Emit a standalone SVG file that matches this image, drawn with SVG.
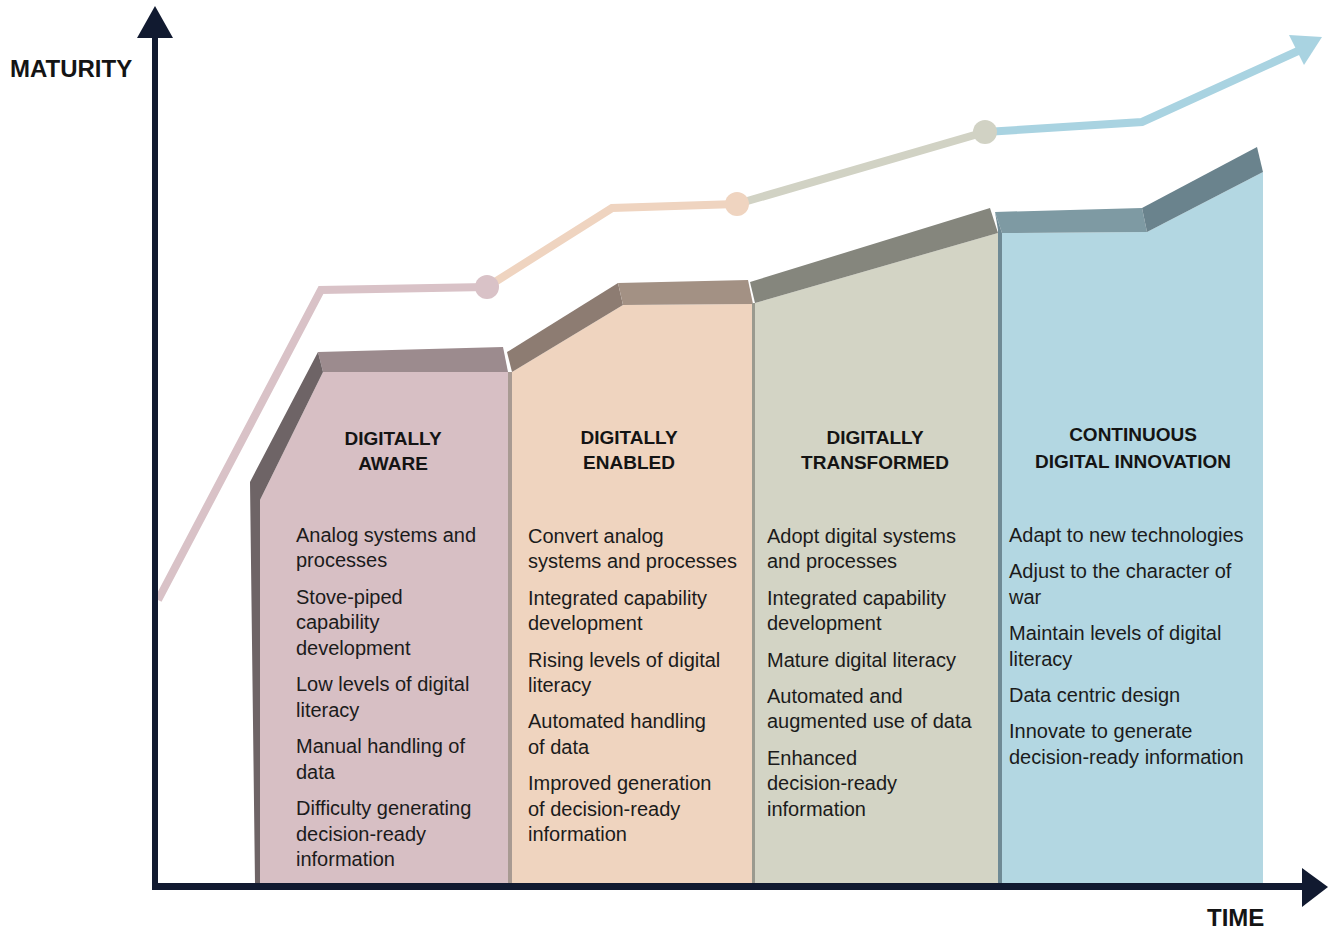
<svg xmlns="http://www.w3.org/2000/svg" width="1328" height="933" viewBox="0 0 1328 933">
<style>
.t{font-family:"Liberation Sans",Arial,sans-serif;font-size:20px;fill:#1b1b1b}
.h{font-family:"Liberation Sans",Arial,sans-serif;font-size:19px;font-weight:bold;fill:#141414;text-anchor:middle}
.ax{font-family:"Liberation Sans",Arial,sans-serif;font-size:24px;font-weight:bold;fill:#141414}
.trend{fill:none;stroke-width:8;stroke-linejoin:miter;stroke-linecap:butt}
</style>
<rect width="1328" height="933" fill="#ffffff"/>

<g id="connectors">
<polyline class="trend" stroke="#d9c2c7" points="158,600 321,290 487,287"/>
<polyline class="trend" stroke="#efd4c0" points="487,287 612,208 737,204"/>
<polyline class="trend" stroke="#d1d2c4" points="737,204 985,132"/>
<polyline class="trend" stroke="#a9d3e1" points="985,132 1142,122 1298,51"/>
<polygon fill="#a9d3e1" points="1322,37 1289,35 1304,65"/>
<circle cx="487" cy="287" r="12" fill="#d9c2c7"/>
<circle cx="737" cy="204" r="12" fill="#efd4c0"/>
<circle cx="985" cy="132" r="12" fill="#d1d2c4"/>
</g>

<g id="node-aware">
<polygon fill="#d7bfc4" points="323,372 508,372 508,883 260,883 260,500"/>
<polygon fill="#9c8b8e" points="318,352 503,347 508,372 323,372"/>
<polygon fill="#6e6466" points="318,352 323,372 260,500 260,883 255,883 250,482"/>
<text class="h" x="393" y="445">DIGITALLY</text>
<text class="h" x="393" y="470">AWARE</text>
<text class="t" x="296" y="542">Analog systems and</text>
<text class="t" x="296" y="567">processes</text>
<text class="t" x="296" y="604">Stove-piped</text>
<text class="t" x="296" y="629">capability</text>
<text class="t" x="296" y="655">development</text>
<text class="t" x="296" y="691">Low levels of digital</text>
<text class="t" x="296" y="717">literacy</text>
<text class="t" x="296" y="753">Manual handling of</text>
<text class="t" x="296" y="779">data</text>
<text class="t" x="296" y="815">Difficulty generating</text>
<text class="t" x="296" y="841">decision-ready</text>
<text class="t" x="296" y="866">information</text>
</g>

<g id="node-enabled">
<polygon fill="#efd4bf" points="512,372 623,305 753,304 753,883 512,883"/>
<polygon fill="#8d7c72" points="507,352 618,283 623,305 512,372"/>
<polygon fill="#a39184" points="618,283 748,280 753,304 623,305"/>
<rect x="508" y="372" width="4" height="511" fill="#a89a92"/>
<text class="h" x="629" y="444">DIGITALLY</text>
<text class="h" x="629" y="469">ENABLED</text>
<text class="t" x="528" y="543">Convert analog</text>
<text class="t" x="528" y="568">systems and processes</text>
<text class="t" x="528" y="605">Integrated capability</text>
<text class="t" x="528" y="630">development</text>
<text class="t" x="528" y="667">Rising levels of digital</text>
<text class="t" x="528" y="692">literacy</text>
<text class="t" x="528" y="728">Automated handling</text>
<text class="t" x="528" y="754">of data</text>
<text class="t" x="528" y="790">Improved generation</text>
<text class="t" x="528" y="816">of decision-ready</text>
<text class="t" x="528" y="841">information</text>
</g>

<g id="node-transformed">
<polygon fill="#d3d4c5" points="755,303 998,233 998,883 755,883"/>
<polygon fill="#85867d" points="750,282 990,208 998,233 755,303"/>
<rect x="752" y="303" width="3" height="580" fill="#9a9a8f"/>
<text class="h" x="875" y="444">DIGITALLY</text>
<text class="h" x="875" y="469">TRANSFORMED</text>
<text class="t" x="767" y="543">Adopt digital systems</text>
<text class="t" x="767" y="568">and processes</text>
<text class="t" x="767" y="605">Integrated capability</text>
<text class="t" x="767" y="630">development</text>
<text class="t" x="767" y="667">Mature digital literacy</text>
<text class="t" x="767" y="703">Automated and</text>
<text class="t" x="767" y="728">augmented use of data</text>
<text class="t" x="767" y="765">Enhanced</text>
<text class="t" x="767" y="790">decision-ready</text>
<text class="t" x="767" y="816">information</text>
</g>

<g id="node-innovation">
<polygon fill="#b3d7e2" points="1002,233 1147,232 1263,172 1263,883 1002,883"/>
<polygon fill="#7e9aa3" points="995,212 1142,208 1147,232 1002,233"/>
<polygon fill="#6a838d" points="1142,208 1257,147 1263,172 1147,232"/>
<polygon fill="#6f8a95" points="995,212 1002,233 1002,883 998,883 998,230"/>
<text class="h" x="1133" y="441">CONTINUOUS</text>
<text class="h" x="1133" y="468">DIGITAL INNOVATION</text>
<text class="t" x="1009" y="542">Adapt to new technologies</text>
<text class="t" x="1009" y="578">Adjust to the character of</text>
<text class="t" x="1009" y="604">war</text>
<text class="t" x="1009" y="640">Maintain levels of digital</text>
<text class="t" x="1009" y="666">literacy</text>
<text class="t" x="1009" y="702">Data centric design</text>
<text class="t" x="1009" y="738">Innovate to generate</text>
<text class="t" x="1009" y="764">decision-ready information</text>
</g>

<g id="axes">
<rect x="152" y="34" width="6" height="856" fill="#111a30"/>
<polygon fill="#111a30" points="155,6 173,38 137,38"/>
<rect x="152" y="883" width="1152" height="7" fill="#111a30"/>
<polygon fill="#111a30" points="1328,887 1302,868 1302,907"/>
<text class="ax" x="10" y="77">MATURITY</text>
<text class="ax" x="1207" y="926" font-size="23">TIME</text>
</g>
</svg>
